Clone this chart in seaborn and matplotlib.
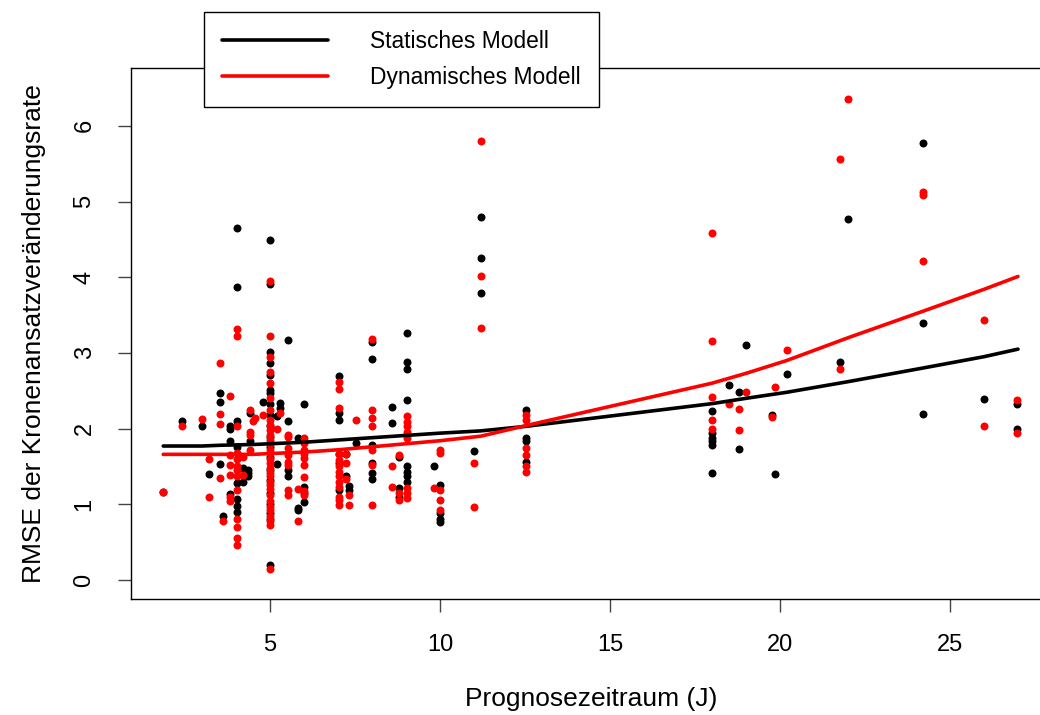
import seaborn as sns
import matplotlib.pyplot as plt
import pandas as pd

# Statisches Modell (black points)
stat_x = [1.86, 2.42, 3.01, 3.22,
          3.53, 3.53, 3.53, 3.63,
          3.82, 3.82, 3.82, 3.82,
          4.02, 4.02, 4.02, 4.02, 4.02, 4.02, 4.02, 4.02,
          4.22, 4.22, 4.35, 4.35, 4.35, 4.41, 4.41, 4.8,
          5.0, 5.0, 5.0, 5.0, 5.0, 5.0, 5.0, 5.0, 5.0, 5.0,
          5.0, 5.0, 5.0, 5.0, 5.0, 5.0, 5.0, 5.0, 5.0, 5.0,
          5.22, 5.22, 5.3, 5.3, 5.52, 5.52, 5.52, 5.52,
          5.81, 5.81, 5.81, 6.0, 6.0, 6.0, 6.0,
          7.04, 7.04, 7.04, 7.04, 7.04, 7.04, 7.23, 7.23, 7.32, 7.32, 7.52,
          8.0, 8.0, 8.0, 8.0, 8.0, 8.0, 8.6, 8.6, 8.8, 8.8, 8.8,
          9.02, 9.02, 9.02, 9.02, 9.02, 9.02, 9.02, 9.02, 9.81,
          10.0, 10.0, 10.0, 10.0, 11.0, 11.2, 11.2, 11.2,
          12.53, 12.53, 12.53, 12.53,
          18.0, 18.0, 18.0, 18.0, 18.0, 18.0, 18.5, 18.8, 18.8, 19.0,
          19.77, 19.84, 20.2, 21.77, 22.0, 24.2, 24.2, 24.2, 26.0, 26.97, 26.97]
stat_y = [1.16, 2.10, 2.03, 1.40,
          2.47, 2.35, 1.53, 0.85,
          2.03, 1.99, 1.84, 1.14,
          4.65, 3.87, 2.10, 1.76, 1.28, 1.07, 0.98, 0.90,
          1.48, 1.30, 1.45, 1.42, 1.37, 2.21, 1.84, 2.35,
          4.49, 3.91, 3.01, 2.87, 2.71, 2.51, 2.47, 2.33, 2.18, 2.03,
          1.89, 1.76, 1.63, 1.45, 1.32, 1.15, 1.01, 0.88, 0.81, 0.20,
          2.17, 1.53, 2.34, 2.27, 3.17, 2.10, 1.45, 1.37,
          1.87, 0.95, 0.92, 2.32, 1.23, 1.15, 1.03,
          2.70, 2.20, 2.11, 1.66, 1.54, 1.19, 1.66, 1.37, 1.24, 1.19, 1.81,
          3.15, 2.92, 1.78, 1.54, 1.41, 1.34, 2.28, 2.08, 1.63, 1.21, 1.10,
          3.26, 2.88, 2.79, 2.38, 1.50, 1.43, 1.37, 1.30, 1.50,
          1.25, 0.88, 0.81, 0.77, 1.70, 4.79, 4.26, 3.79,
          2.25, 1.87, 1.83, 1.56,
          2.23, 1.94, 1.87, 1.83, 1.78, 1.42, 2.57, 2.49, 1.73, 3.10,
          2.18, 1.40, 2.72, 2.88, 4.77, 5.77, 3.39, 2.19, 2.39, 2.33, 2.00]

# Dynamisches Modell (red points)
dyn_x = [1.86, 2.42, 3.01, 3.22, 3.22,
         3.53, 3.53, 3.53, 3.53, 3.63,
         3.82, 3.82, 3.82, 3.82, 3.82, 3.82,
         4.02, 4.02, 4.02, 4.02, 4.02, 4.02, 4.02, 4.02, 4.02, 4.02, 4.02, 4.02, 4.02,
         4.22, 4.22, 4.41, 4.41, 4.41, 4.41, 4.5, 4.56, 4.8,
         5.0, 5.0, 5.0, 5.0, 5.0, 5.0, 5.0, 5.0, 5.0, 5.0, 5.0,
         5.0, 5.0, 5.0, 5.0, 5.0, 5.0, 5.0, 5.0, 5.0, 5.0, 5.0,
         5.0, 5.0, 5.0, 5.0, 5.0, 5.0, 5.0, 5.0, 5.0,
         5.3, 5.22, 5.52, 5.52, 5.52, 5.52, 5.52, 5.52, 5.52, 5.52,
         5.81, 5.81, 6.0, 6.0, 6.0, 6.0, 6.0, 6.0, 6.0, 6.0, 6.0,
         7.04, 7.04, 7.04, 7.04, 7.04, 7.04, 7.04, 7.04, 7.04, 7.04, 7.04, 7.04, 7.04,
         7.23, 7.23, 7.23, 7.32, 7.32, 7.52,
         8.0, 8.0, 8.0, 8.0, 8.0, 8.0, 8.0, 8.6, 8.6, 8.8, 8.8, 8.8,
         9.02, 9.02, 9.02, 9.02, 9.02, 9.02, 9.02, 9.02, 9.81,
         10.0, 10.0, 10.0, 10.0, 10.0, 11.0, 11.0, 11.2, 11.2, 11.2,
         12.53, 12.53, 12.53, 12.53, 12.53, 12.53,
         18.0, 18.0, 18.0, 18.0, 18.0, 18.5, 18.8, 18.8, 19.0,
         19.77, 19.84, 20.2, 21.77, 21.77, 22.0, 24.2, 24.2, 24.2, 26.0, 26.0, 26.97, 26.97]
dyn_y = [1.16, 2.04, 2.13, 1.60, 1.10,
         2.87, 2.19, 2.06, 1.35, 0.78,
         2.43, 1.65, 1.52, 1.39, 1.09, 1.05,
         3.32, 3.23, 2.04, 1.68, 1.60, 1.50, 1.45, 1.37, 1.19, 0.81, 0.70, 0.56, 0.46,
         1.62, 1.39, 2.25, 1.96, 1.92, 1.72, 2.10, 2.14, 2.18,
         3.95, 3.23, 2.95, 2.75, 2.60, 2.40, 2.25, 2.11, 2.05, 1.98, 1.92,
         1.85, 1.80, 1.72, 1.68, 1.60, 1.55, 1.48, 1.42, 1.38, 1.30, 1.25,
         1.20, 1.12, 1.05, 0.97, 0.92, 0.85, 0.78, 0.73, 0.15,
         2.20, 2.00, 1.92, 1.89, 1.74, 1.65, 1.56, 1.52, 1.19, 1.12,
         1.20, 0.78, 1.87, 1.81, 1.72, 1.67, 1.61, 1.52, 1.36, 1.17, 1.12,
         2.61, 2.52, 2.27, 1.66, 1.59, 1.50, 1.43, 1.37, 1.30, 1.23, 1.10, 1.06, 0.99,
         1.66, 1.54, 1.34, 1.12, 0.99, 2.12,
         3.19, 2.25, 2.14, 2.03, 1.72, 1.52, 0.99, 1.50, 1.23, 1.65, 1.15, 1.06,
         2.16, 2.09, 2.03, 1.96, 1.87, 1.21, 1.15, 1.08, 1.22,
         1.72, 1.68, 1.19, 1.06, 0.92, 1.54, 0.97, 5.80, 4.01, 3.33,
         2.18, 2.11, 1.74, 1.65, 1.50, 1.43,
         4.59, 3.16, 2.42, 2.11, 1.99, 2.33, 2.26, 1.98, 2.49,
         2.15, 2.55, 3.04, 5.56, 2.79, 6.36, 5.12, 5.09, 4.22, 3.43, 2.03, 2.38, 1.94]

# fitted model curves
fit_x = [1.86, 3.0, 3.53, 4.5, 5.0, 6.0, 7.0, 8.0, 9.0, 10.0, 11.2, 12.53,
         18.0, 19.0, 20.2, 22.0, 24.2, 26.0, 27.0]
fit_stat = [1.77, 1.77, 1.78, 1.79, 1.80, 1.82, 1.85, 1.88, 1.91, 1.94, 1.97, 2.03,
            2.33, 2.40, 2.48, 2.62, 2.80, 2.95, 3.05]
fit_dyn = [1.66, 1.66, 1.66, 1.66, 1.67, 1.69, 1.72, 1.76, 1.80, 1.84, 1.90, 2.04,
           2.60, 2.73, 2.90, 3.20, 3.55, 3.84, 4.01]

pts_stat = pd.DataFrame({"x": stat_x, "y": stat_y})
pts_dyn = pd.DataFrame({"x": dyn_x, "y": dyn_y})
fits = pd.DataFrame({"x": fit_x, "stat": fit_stat, "dyn": fit_dyn})

sns.set_theme(style="white")
plt.rcParams['font.family'] = ['Liberation Sans', 'DejaVu Sans']
plt.rcParams['text.color'] = 'black'
plt.rcParams['axes.labelcolor'] = 'black'
plt.rcParams['xtick.color'] = 'black'
plt.rcParams['ytick.color'] = 'black'

fig = plt.figure(figsize=(10.4, 7.15), dpi=100)
ax = fig.add_axes([131 / 1040, 1 - 599 / 715, (1052 - 131) / 1040, (599 - 68) / 715])

sns.scatterplot(data=pts_stat, x="x", y="y", color="black", s=33, linewidth=0,
                ax=ax, legend=False, zorder=2)
sns.scatterplot(data=pts_dyn, x="x", y="y", color="#ff0000", s=33, linewidth=0,
                ax=ax, legend=False, zorder=3)
sns.lineplot(data=fits, x="x", y="stat", color="black", lw=2.6, ax=ax,
             label="Statisches Modell", zorder=4)
sns.lineplot(data=fits, x="x", y="dyn", color="#ff0000", lw=2.6, ax=ax,
             label="Dynamisches Modell", zorder=5)

ax.set_xlim(0.912, 28.0)
ax.set_ylim(-0.251, 6.764)
ax.set_xticks([5, 10, 15, 20, 25])
ax.set_yticks([0, 1, 2, 3, 4, 5, 6])

for sp in ax.spines.values():
    sp.set_color("black")
    sp.set_linewidth(1.0)

ax.tick_params(axis="both", which="major", direction="out", length=9.5, width=1,
               color="#444444", labelsize=17, pad=16, bottom=True, left=True)
for lab in ax.get_yticklabels():
    lab.set_rotation(90)
    lab.set_va("center")

ax.set_xlabel("Prognosezeitraum (J)", fontsize=19, labelpad=22)
ax.set_ylabel("RMSE der Kronenansatzveränderungsrate", fontsize=19, labelpad=20)

handles, labels = ax.get_legend_handles_labels()
leg = ax.legend(handles, labels, loc="upper left",
                bbox_to_anchor=(204 / 1040, 1 - 12 / 715), bbox_transform=fig.transFigure,
                frameon=True, fancybox=False, framealpha=1, edgecolor="black",
                fontsize=16.4, handlelength=4.65, handletextpad=1.85, borderpad=0.8,
                labelspacing=0.56, borderaxespad=0)
leg.get_frame().set_linewidth(1.0)
leg.set_zorder(10)

fig.savefig("out.png", dpi=100)
